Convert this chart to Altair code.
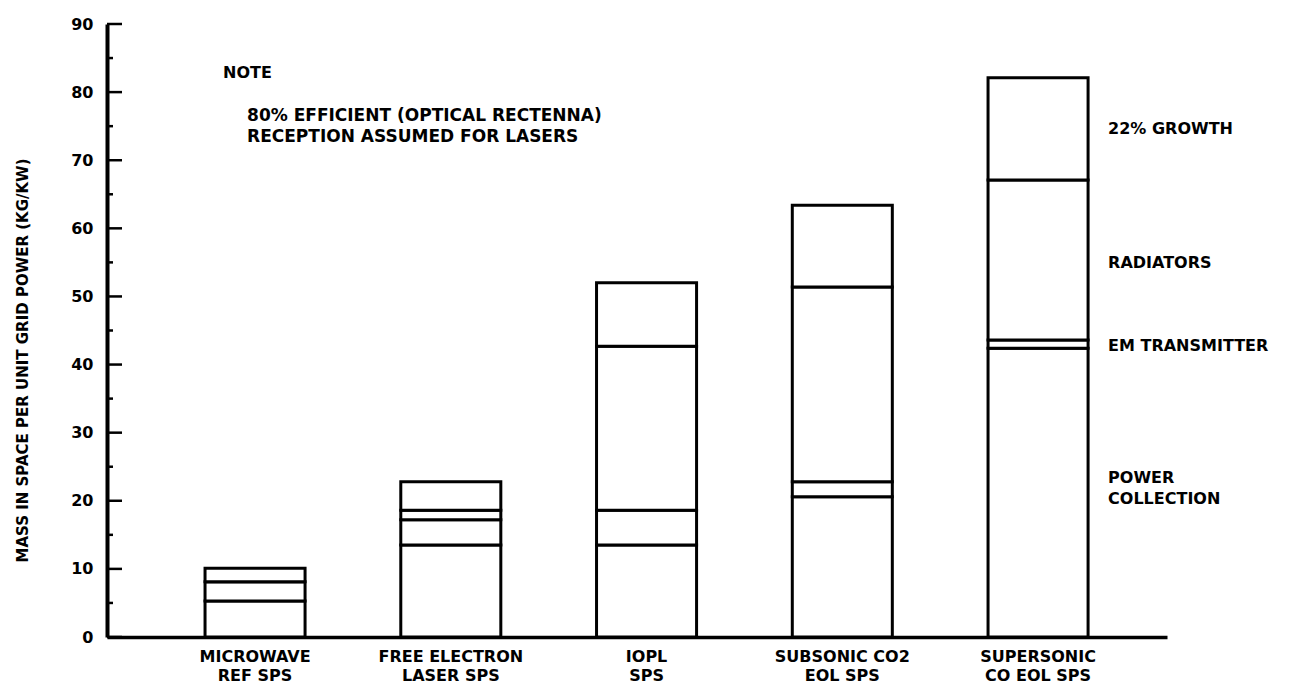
import altair as alt
import pandas as pd

# ---- data ----
categories = ["MICROWAVE|REF  SPS", "FREE ELECTRON|LASER SPS", "IOPL|SPS",
              "SUBSONIC CO2|EOL SPS", "SUPERSONIC|CO EOL SPS"]
components = ["POWER COLLECTION", "EM TRANSMITTER", "RADIATORS", "22% GROWTH"]
power_collection = [5.3, 13.5, 13.5, 20.6, 42.4]
em_transmitter = [2.8, 3.7, 5.1, 2.2, 1.2]
radiators = [0.0, 1.4, 24.1, 28.6, 23.5]
growth = [2.0, 4.2, 9.3, 12.0, 15.0]

major_ticks = [0, 10, 20, 30, 40, 50, 60, 70, 80, 90]
minor_ticks = [5, 15, 25, 35, 45, 55, 65, 75, 85]

legend_labels = ["22% GROWTH", "RADIATORS", "EM TRANSMITTER", "POWER|COLLECTION"]
legend_y = [74.6, 54.9, 42.7, 23.3]

note_title = ["NOTE"]
note_title_y = [82.8]
note_text = ["80% EFFICIENT (OPTICAL RECTENNA)|RECEPTION ASSUMED FOR LASERS"]
note_text_y = [76.5]

FONT = "DejaVu Sans"
Y_TITLE = "MASS IN SPACE PER UNIT GRID POWER (KG/KW)"

rows = []
for series_idx, (name, vals) in enumerate(zip(components,
                                              [power_collection, em_transmitter, radiators, growth])):
    for cat, v in zip(categories, vals):
        rows.append({"cat": cat, "component": name, "idx": series_idx, "value": v})
bars_df = pd.DataFrame(rows)

xscale = alt.Scale(domain=categories, paddingInner=0.489, paddingOuter=0.452, align=0.554)
yscale = alt.Scale(domain=[0, 90], nice=False)

xaxis = alt.Axis(title=None, labelAngle=0, ticks=False, domainWidth=3.5,
                 domainColor="black", labelExpr="split(datum.label, '|')",
                 labelFont=FONT, labelFontSize=16, labelFontWeight="bold",
                 labelColor="black", labelPadding=11, labelLineHeight=19)
yaxis = alt.Axis(title=Y_TITLE, values=major_ticks, ticks=False, grid=False, domainWidth=4,
                 domainColor="black", labelFont=FONT, labelFontSize=16,
                 labelFontWeight="bold", labelColor="black", labelPadding=14,
                 titleFont=FONT, titleFontSize=15, titleFontWeight="bold",
                 titleColor="black", titlePadding=40, titleY=336)


def X():
    return alt.X("cat:N", scale=xscale, sort=categories, axis=xaxis, title=None)


def Y(field):
    return alt.Y(field, scale=yscale, axis=yaxis, title=Y_TITLE)


bars = alt.Chart(bars_df).mark_bar(fill="white", stroke="black", strokeWidth=3).encode(
    x=X(),
    y=alt.Y("value:Q", scale=yscale, stack="zero", axis=yaxis, title=Y_TITLE),
    detail="component:N",
    order=alt.Order("idx:Q", sort="ascending"),
)

major = alt.Chart(pd.DataFrame({"value": major_ticks})).mark_rule(color="black", strokeWidth=2.5).encode(
    y=Y("value:Q"), x=alt.value(0), x2=alt.value(15))
minor = alt.Chart(pd.DataFrame({"value": minor_ticks})).mark_rule(color="black", strokeWidth=2.5).encode(
    y=Y("value:Q"), x=alt.value(0), x2=alt.value(6))

legend_df = pd.DataFrame({"cat": [categories[-1]] * len(legend_labels),
                          "label": legend_labels, "value": legend_y})
legend = alt.Chart(legend_df).mark_text(align="left", baseline="middle", dx=70, lineBreak="|",
                                        font=FONT, fontSize=16, fontWeight="bold",
                                        color="black", lineHeight=21).encode(
    x=X(), y=Y("value:Q"), text="label:N")

note1 = alt.Chart(pd.DataFrame({"cat": [categories[0]], "label": note_title, "value": note_title_y})).mark_text(
    align="left", baseline="middle", dx=-32, font=FONT, fontSize=16, fontWeight="bold", color="black").encode(
    x=X(), y=Y("value:Q"), text="label:N")
note2 = alt.Chart(pd.DataFrame({"cat": [categories[0]], "label": note_text, "value": note_text_y})).mark_text(
    align="left", baseline="middle", dx=-8, lineBreak="|", lineHeight=21, font=FONT, fontSize=17,
    fontWeight="bold", color="black").encode(
    x=X(), y=Y("value:Q"), text="label:N")

chart = alt.layer(bars, major, minor, legend, note1, note2).properties(
    width=1060, height=613,
    background="white",
    autosize=alt.AutoSizeParams(type="none"),
    padding={"left": 99, "top": 16, "right": 117, "bottom": 53},
).configure_view(stroke=None)

chart.save("out.html", embed_options={"renderer": "svg", "actions": False})
